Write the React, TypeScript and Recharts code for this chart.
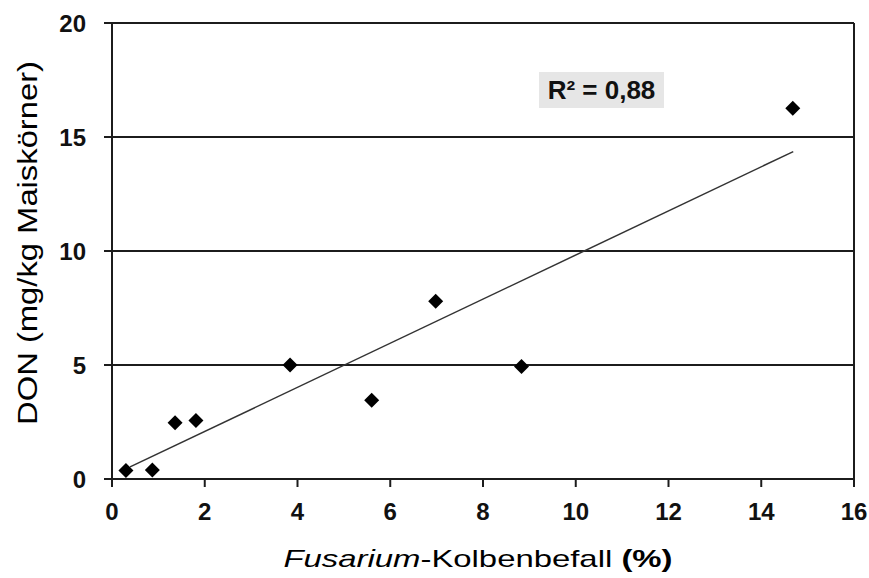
import { CartesianGrid, ReferenceLine, Scatter, ScatterChart, XAxis, YAxis } from 'recharts';

// Kolbenbefall (%) vs DON (mg/kg)
const befall = [0.3, 0.87, 1.36, 1.81, 3.84, 5.6, 6.98, 8.83, 14.68];
const don = [0.37, 0.39, 2.47, 2.57, 5.0, 3.45, 7.8, 4.93, 16.26];

// trendline endpoints
const trendX = [0.39, 14.69];
const trendY = [0.53, 14.36];

const xTicks = [0, 2, 4, 6, 8, 10, 12, 14, 16];
const yTicks = [0, 5, 10, 15, 20];

const points = befall.map((x, i) => ({ x, y: don[i] }));
const trend = trendX.map((x, i) => ({ x, y: trendY[i] }));

const FONT = '"Liberation Sans", Arial, sans-serif';
const INK = '#1c1c1c';

const Diamond = (props: any) => {
  const { cx, cy } = props;
  const r = 7.5;
  return (
    <polygon
      points={`${cx},${cy - r} ${cx + r},${cy} ${cx},${cy + r} ${cx - r},${cy}`}
      fill="#000"
    />
  );
};

const YTitle = () => (
  <text
    transform="translate(37,243) rotate(-90) scale(1.17,1)"
    textAnchor="middle"
    fontFamily={FONT}
    fontSize={28}
    fill="#000"
  >
    DON (mg/kg Maiskörner)
  </text>
);

const XTitle = () => (
  <text
    transform="translate(478,567) scale(1.37,1)"
    textAnchor="middle"
    fontFamily={FONT}
    fontSize={24}
    fill="#000"
  >
    <tspan fontStyle="italic">Fusarium</tspan>
    <tspan>-Kolbenbefall </tspan>
    <tspan fontWeight="bold">(%)</tspan>
  </text>
);

export default function App() {
  const tick = { fontFamily: FONT, fontSize: 24, fontWeight: 'bold', fill: '#111' };
  return (
    <div style={{ position: 'absolute', left: 0, top: 0, width: 869, height: 578, background: '#fff' }}>
      <ScatterChart width={869} height={578} margin={{ top: 23, right: 15, left: 0, bottom: 0 }}>
        <CartesianGrid vertical={false} stroke={INK} strokeWidth={2} />
        <XAxis
          type="number"
          dataKey="x"
          domain={[0, 16]}
          ticks={xTicks}
          interval={0}
          height={99}
          tickSize={8}
          tickMargin={16}
          tick={tick}
          axisLine={{ stroke: INK, strokeWidth: 2 }}
          tickLine={{ stroke: INK, strokeWidth: 2 }}
          label={{ content: () => <XTitle /> }}
        />
        <YAxis
          type="number"
          dataKey="y"
          domain={[0, 20]}
          ticks={yTicks}
          interval={0}
          width={112}
          tickSize={8}
          tickMargin={18}
          tick={tick}
          axisLine={{ stroke: INK, strokeWidth: 2 }}
          tickLine={{ stroke: INK, strokeWidth: 2 }}
          label={{ content: () => <YTitle /> }}
        />
        <ReferenceLine x={16} stroke={INK} strokeWidth={2} />
        <Scatter
          data={trend}
          line={{ stroke: '#333', strokeWidth: 1.5 }}
          shape={() => <g />}
          isAnimationActive={false}
        />
        <Scatter data={points} shape={Diamond} isAnimationActive={false} />
      </ScatterChart>
      <div
        style={{
          position: 'absolute',
          left: 539,
          top: 72,
          width: 125,
          height: 36,
          background: '#e6e6e6',
          fontFamily: FONT,
          fontWeight: 'bold',
          fontSize: 26,
          lineHeight: '36px',
          textAlign: 'center',
          color: '#111',
        }}
      >
        R² = 0,88
      </div>
    </div>
  );
}
